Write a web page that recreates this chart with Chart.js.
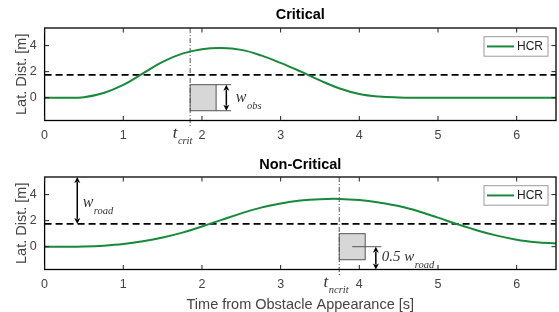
<!DOCTYPE html>
<html><head><meta charset="utf-8">
<script src="https://cdn.jsdelivr.net/npm/chart.js@4/dist/chart.umd.min.js"></script>
<style>
html,body{margin:0;padding:0;background:#fff;}
#wrap{position:relative;width:559px;height:312px;overflow:hidden;background:#fff;}
canvas{position:absolute;left:0;}
#c1{top:0;}
#c2{top:150px;}
</style></head><body>
<div id="wrap">
<canvas id="c1" width="559" height="150"></canvas>
<canvas id="c2" width="559" height="162"></canvas>
</div>
<script>
// ---- data ----
const timeS = [0,0.25,0.5,0.75,1,1.25,1.5,1.75,2,2.25,2.5,2.75,3,3.25,3.5,3.75,4,4.25,4.5,4.75,5,5.25,5.5,5.75,6,6.25,6.5];
const hcrCritical = [0,0,0.04,0.36,0.98,1.87,2.75,3.38,3.72,3.81,3.67,3.25,2.67,2.02,1.33,0.71,0.29,0.09,0.02,0,0,0,0,0,0,0,0];
const hcrNonCritical = [0,0,0.02,0.08,0.2,0.41,0.7,1.08,1.55,2.06,2.56,3.0,3.32,3.54,3.65,3.67,3.58,3.39,3.12,2.72,2.23,1.72,1.25,0.85,0.54,0.35,0.24];
const xTicks = [0,1,2,3,4,5,6];
const yTicks = [0,2,4];
const xRange = [0, 6.5];
const yRange = [-1.75, 5.35];
const laneBoundary = 1.75;
const tCrit = 1.85;
const tNcrit = 3.745;
const obstacleLength = 0.33;
const obstacleHalfWidth = 1.0;
const legendLabel = 'HCR';

// ---- styling ----
const SANS = '"Liberation Sans", Arial, Helvetica, sans-serif';
const SERIF = '"Liberation Serif", "Times New Roman", serif';
const GREEN = '#17893b';
const TXT = '#444';

function toPts(xs, ys){ return xs.map((x,i)=>({x:x, y:ys[i]})); }

function drawSubLabel(ctx, x, y, main, sub, mainSize, subSize, subDy){
  ctx.save();
  ctx.fillStyle = '#333';
  ctx.textBaseline = 'alphabetic';
  ctx.textAlign = 'left';
  ctx.font = 'italic ' + mainSize + 'px ' + SERIF;
  ctx.fillText(main, x, y);
  const w = ctx.measureText(main).width;
  ctx.font = 'italic ' + subSize + 'px ' + SERIF;
  ctx.fillText(sub, x + w + 0.5, y + subDy);
  ctx.restore();
}

function vArrow(ctx, x, yTop, yBot){
  const hl = 6, hw = 3;
  ctx.save();
  ctx.strokeStyle = '#000'; ctx.fillStyle = '#000'; ctx.lineWidth = 1.5;
  ctx.beginPath(); ctx.moveTo(x, yTop + hl - 1); ctx.lineTo(x, yBot - hl + 1); ctx.stroke();
  ctx.beginPath(); ctx.moveTo(x, yTop); ctx.lineTo(x - hw, yTop + hl); ctx.lineTo(x, yTop + hl - 1.5); ctx.lineTo(x + hw, yTop + hl); ctx.closePath(); ctx.fill();
  ctx.beginPath(); ctx.moveTo(x, yBot); ctx.lineTo(x - hw, yBot - hl); ctx.lineTo(x, yBot - hl + 1.5); ctx.lineTo(x + hw, yBot - hl); ctx.closePath(); ctx.fill();
  ctx.restore();
}

const decor = {
  id: 'decor',
  beforeDatasetsDraw(chart, args, o){
    const ctx = chart.ctx, xs = chart.scales.x, ys = chart.scales.y;
    const x0 = xs.getPixelForValue(o.obsStart), x1 = xs.getPixelForValue(o.obsStart + obstacleLength);
    const y0 = ys.getPixelForValue(obstacleHalfWidth), y1 = ys.getPixelForValue(-obstacleHalfWidth);
    ctx.save();
    ctx.fillStyle = '#d7d7d7'; ctx.strokeStyle = '#555'; ctx.lineWidth = 1;
    ctx.fillRect(x0, y0, x1 - x0, y1 - y0);
    ctx.strokeRect(x0, y0, x1 - x0, y1 - y0);
    ctx.restore();
  },
  afterDraw(chart, args, o){
    const ctx = chart.ctx, xs = chart.scales.x, ys = chart.scales.y, a = chart.chartArea;
    // frame
    ctx.save();
    ctx.strokeStyle = '#000'; ctx.lineWidth = 1.3;
    ctx.strokeRect(a.left, a.top, a.right - a.left, a.bottom - a.top);
    // inward ticks
    ctx.lineWidth = 1; ctx.strokeStyle = '#222';
    const tl = 4.5;
    xTicks.forEach(v => {
      const x = xs.getPixelForValue(v);
      ctx.beginPath(); ctx.moveTo(x, a.bottom); ctx.lineTo(x, a.bottom - tl);
      ctx.moveTo(x, a.top); ctx.lineTo(x, a.top + tl); ctx.stroke();
    });
    yTicks.forEach(v => {
      const y = ys.getPixelForValue(v);
      ctx.beginPath(); ctx.moveTo(a.left, y); ctx.lineTo(a.left + tl, y);
      ctx.moveTo(a.right, y); ctx.lineTo(a.right - tl, y); ctx.stroke();
    });
    ctx.restore();

    // annotations
    ctx.save();
    ctx.strokeStyle = '#555'; ctx.lineWidth = 1;
    (o.hLines || []).forEach(h => {
      const y = ys.getPixelForValue(h.y);
      ctx.beginPath(); ctx.moveTo(xs.getPixelForValue(h.x0), y); ctx.lineTo(xs.getPixelForValue(h.x1), y); ctx.stroke();
    });
    ctx.restore();
    (o.arrows || []).forEach(ar => {
      vArrow(ctx, xs.getPixelForValue(ar.x), ys.getPixelForValue(ar.y0), ys.getPixelForValue(ar.y1));
    });
    (o.labels || []).forEach(l => {
      drawSubLabel(ctx, xs.getPixelForValue(l.x), ys.getPixelForValue(l.y), l.main, l.sub, l.size || 16, 10.5, 6.5);
    });
    // time marker label below axis
    if (o.marker){
      const m = o.marker;
      drawSubLabel(ctx, xs.getPixelForValue(m.t) + m.dx, a.bottom + 17.5, 't', m.sub, 17, 10.5, 6);
    }
    // legend
    const bx = a.right - 72, by = a.top + 8.7, bw = 64, bh = 19.5;
    ctx.save();
    ctx.fillStyle = '#fff'; ctx.fillRect(bx, by, bw, bh);
    ctx.strokeStyle = '#9a9a9a'; ctx.lineWidth = 1; ctx.strokeRect(bx, by, bw, bh);
    ctx.strokeStyle = GREEN; ctx.lineWidth = 2;
    ctx.beginPath(); ctx.moveTo(a.right - 69, by + bh/2); ctx.lineTo(a.right - 42, by + bh/2); ctx.stroke();
    ctx.fillStyle = '#222'; ctx.font = '12px ' + SANS; ctx.textBaseline = 'middle'; ctx.textAlign = 'left';
    ctx.fillText(chart.data.datasets[0].label, a.right - 39, by + bh/2 + 0.5);
    ctx.restore();
  }
};

function makeChart(id, title, series, tMark, extra, xTitle, titlePad, areaBottomGap){
  return new Chart(document.getElementById(id), {
    type: 'line',
    data: {
      datasets: [
        { label: legendLabel, data: toPts(timeS, series), borderColor: GREEN, borderWidth: 2,
          pointRadius: 0, tension: 0.4, fill: false, order: 0 },
        { label: 'lane', data: [{x: xRange[0], y: laneBoundary}, {x: xRange[1], y: laneBoundary}],
          borderColor: '#000', borderWidth: 1.6, borderDash: [7, 4], pointRadius: 0, order: 1 },
        { label: 'marker', data: [{x: tMark, y: yRange[1]}, {x: tMark, y: yRange[0] - 0.5}],
          borderColor: '#555', borderWidth: 1, borderDash: [5, 2, 1, 2], pointRadius: 0, clip: false, order: 2 }
      ]
    },
    options: {
      responsive: false, animation: false, devicePixelRatio: 1,
      layout: { padding: { left: 0, right: 3, top: 0, bottom: 0 } },
      plugins: {
        legend: { display: false }, tooltip: { enabled: false },
        title: { display: true, text: title, fullSize: false, color: '#000',
          font: { family: SANS, size: 14.5, weight: 'bold', lineHeight: 1.2 },
          padding: titlePad },
        decor: extra
      },
      scales: {
        x: { type: 'linear', min: xRange[0], max: xRange[1], position: 'bottom',
          grid: { display: false, drawTicks: false }, border: { display: false },
          ticks: { color: TXT, font: { family: SANS, size: 12.5 }, padding: 8, maxRotation: 0 },
          title: { display: !!xTitle, text: xTitle || '', color: TXT,
            font: { family: SANS, size: 14.5, lineHeight: 0.95 }, padding: { top: 0, bottom: 0 } },
          afterBuildTicks: s => { s.ticks = xTicks.map(v => ({ value: v })); },
          afterFit: s => { s.height = areaBottomGap; } },
        y: { type: 'linear', min: yRange[0], max: yRange[1],
          grid: { display: false, drawTicks: false }, border: { display: false },
          ticks: { color: TXT, font: { family: SANS, size: 12.5 }, padding: 8 },
          title: { display: true, text: 'Lat. Dist. [m]', color: TXT,
            font: { family: SANS, size: 14.5, lineHeight: 1.2 }, padding: { top: 13.5, bottom: 0 } },
          afterBuildTicks: s => { s.ticks = yTicks.map(v => ({ value: v })); },
          afterFit: s => { s.width = 44.6; } }
      }
    },
    plugins: [decor]
  });
}

makeChart('c1', 'Critical', hcrCritical, tCrit, {
  obsStart: tCrit,
  hLines: [ { y: obstacleHalfWidth, x0: tCrit + obstacleLength, x1: 2.37 },
            { y: -obstacleHalfWidth, x0: tCrit + obstacleLength, x1: 2.37 } ],
  arrows: [ { x: 2.31, y0: obstacleHalfWidth, y1: -obstacleHalfWidth } ],
  labels: [ { x: 2.43, y: -0.33, main: 'w', sub: 'obs' } ],
  marker: { t: tCrit, sub: 'crit', dx: -17.5 }
}, null, { top: 6, bottom: 4.6 }, 29.5);

makeChart('c2', 'Non-Critical', hcrNonCritical, tNcrit, {
  obsStart: tNcrit,
  hLines: [ { y: 0, x0: tNcrit + obstacleLength / 2, x1: 4.28 } ],
  arrows: [ { x: 0.415, y0: yRange[1], y1: laneBoundary },
            { x: 4.21, y0: 0, y1: yRange[0] } ],
  labels: [ { x: 0.484, y: 3.02, main: 'w', sub: 'road' },
            { x: 4.285, y: -1.12, main: '0.5 w', sub: 'road', size: 15 } ],
  marker: { t: tNcrit, sub: 'ncrit', dx: -15.7 }
}, 'Time from Obstacle Appearance [s]', { top: 6, bottom: 3.6 }, 42.5);
</script>
</body></html>
